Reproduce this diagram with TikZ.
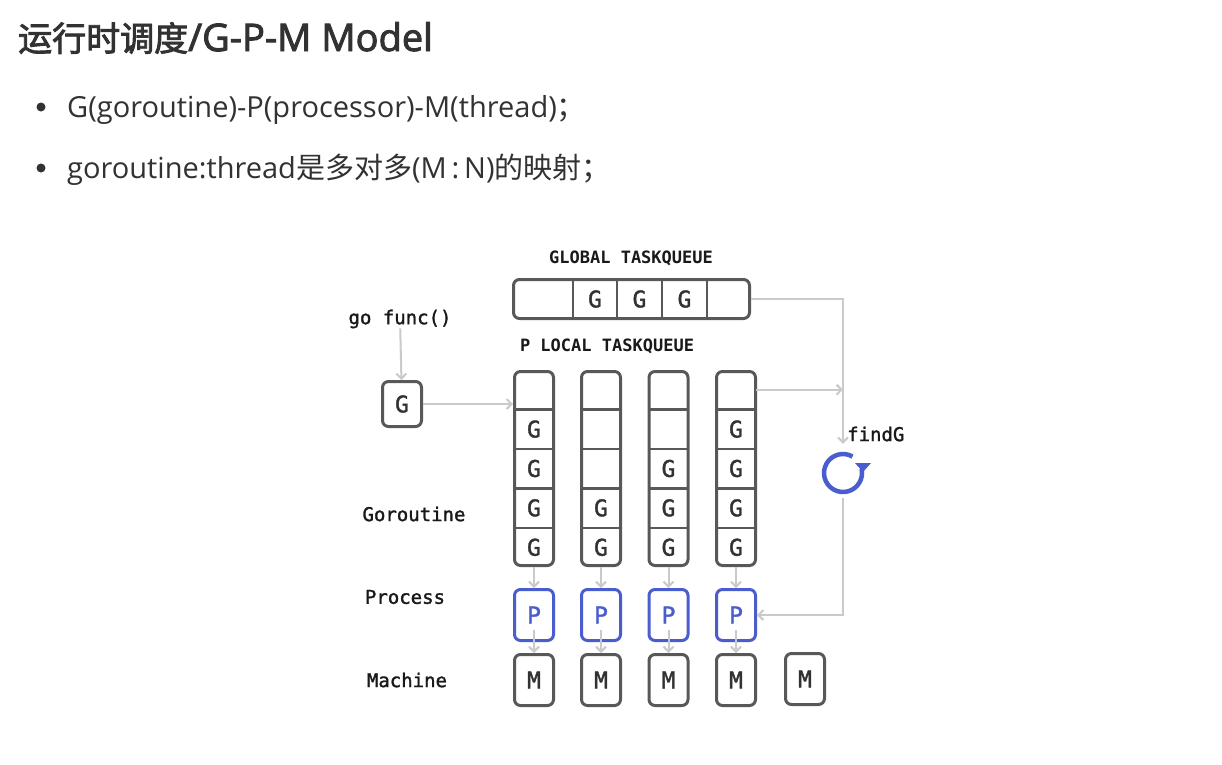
\documentclass[tikz,border=0pt]{standalone}
\usepackage{fontspec}
\setmainfont{Open Sans}
\newfontfamily\cjk{Noto Sans CJK SC}
\newfontfamily\cjkb[FakeBold=2.5]{Noto Sans CJK SC}
\newfontfamily\sansb[FakeBold=2.5]{Open Sans}
\newfontfamily\mono{DejaVu Sans Mono}
\newfontfamily\monob[FakeBold=1.5]{DejaVu Sans Mono}
\usetikzlibrary{arrows.meta}
\definecolor{boxgray}{RGB}{88,88,88}
\definecolor{arrgray}{RGB}{202,202,202}
\definecolor{pblue}{RGB}{74,93,206}
\definecolor{txt}{RGB}{50,50,50}
\definecolor{lbltxt}{RGB}{25,25,25}
\begin{document}
\begin{tikzpicture}[x=1pt,y=-1pt,
  box/.style={draw=boxgray, line width=3pt, rounded corners=6pt, inner sep=0pt, minimum width=39pt},
  pbox/.style={draw=pblue, line width=3pt, rounded corners=6pt, inner sep=0pt, minimum width=39pt, minimum height=51pt, text=pblue, font=\monob\fontsize{23}{23}\selectfont},
  mbox/.style={box, minimum height=51pt, text=txt, font=\monob\fontsize{23}{23}\selectfont},
  cellbox/.style={inner sep=0pt, minimum width=39pt, minimum height=39.4pt},
  glyph/.style={inner sep=0pt, text=txt, font=\monob\fontsize{23}{23}\selectfont},
  divider/.style={draw=boxgray, line width=2.5pt},
  conn/.style={draw=arrgray, line width=2pt, -{Straight Barb[length=5pt,width=10pt]}},
  lbl/.style={inner sep=0pt, text=lbltxt, font=\monob\fontsize{19}{19}\selectfont},
  hdr/.style={inner sep=0pt, text=lbltxt, font=\mono\bfseries\fontsize{17}{17}\selectfont},
  bullet/.style={circle, fill=txt, minimum size=9pt, inner sep=0pt},
  linetext/.style={anchor=base west, inner sep=0pt, text=txt, font=\fontsize{29}{29}\selectfont}
]
\fill[white] (0,0) rectangle (1222,764);
\useasboundingbox (0,0) rectangle (1222,764);

% title and bullets
\node[anchor=base west, inner sep=0pt, text=txt] (title) at (18,51)
  {{\cjkb\fontsize{34}{34}\selectfont 运行时调度}{\sansb\fontsize{38}{38}\selectfont /G-P-M Model}};
\node[bullet] (b1) at (41,107) {};
\node[linetext] (t1) at (67,117) {G(goroutine)-P(processor)-M(thread){\cjk ；}};
\node[bullet] (b2) at (41,168) {};
\node[linetext] (t2) at (67,178) {goroutine:thread{\cjk 是多对多}(M\,:\,N){\cjk 的映射；}};

% global queue
\node[hdr] (ghdr) at (631,258) {GLOBAL TASKQUEUE};
\node[box, minimum width=236pt, minimum height=39pt] (gq) at (631.5,299) {};
\foreach \x in {573,617,662,707}
  \draw[divider] (\x,0 |- gq.north) -- (\x,0 |- gq.south);
\node[glyph] (gq2) at (595,299) {G};
\node[glyph] (gq3) at (639.5,299) {G};
\node[glyph] (gq4) at (684.5,299) {G};

% go func
\node[lbl] (gofunc) at (400,319) {go func()};
\node[box, minimum height=45pt, text=txt, font=\monob\fontsize{23}{23}\selectfont] (gbox) at (402,404) {G};

\node[hdr] (lhdr) at (607,346) {P LOCAL TASKQUEUE};

% local queues
\foreach \k/\x in {1/534,2/601,3/668.5,4/736}{
  \node[box, minimum height=194pt] (col\k) at (\x,468.5) {};
  \foreach \r in {1,...,5}
    \node[cellbox] (c\k\r) at (\x,{370+39.4*(\r-0.5)}) {};
  \foreach \r in {1,...,4}
    \draw[divider] (c\k\r.south west) -- (c\k\r.south east);
  \node[pbox] (p\k) at (\x,615) {P};
  \node[mbox] (m\k) at (\x,680) {M};
}
\node[mbox] (m5) at (805,679) {M};
\foreach \c in {12,13,14,15,24,25,33,34,35,42,43,44,45}
  \node[glyph] (g\c) at (c\c) {G};

% row labels
\node[lbl] (lgor) at (414,514) {Goroutine};
\node[lbl] (lproc) at (405,597) {Process};
\node[lbl] (lmach) at (407,680) {Machine};

% findG icon
\node[inner sep=0pt, minimum size=42pt, circle] (ref) at (843,473) {};
\draw[pblue, line width=4.5pt] ([shift={(-60:19)}]ref.center) arc[start angle=-60, end angle=-372, radius=19];
\fill[pblue] (855,463) -- (871,463) -- (863,472) -- cycle;
\node[lbl, anchor=west] (findg) at (847,434) {findG};

% connectors
\draw[conn] (gofunc) -- (gbox);
\draw[conn] (gbox.east) -- (gbox.east -| col1.west);
\draw[conn, shorten >=8pt] (gq.east) -| (ref.north);
\draw[conn] (c41.east) -- (c41.east -| ref.center);
\draw[conn, shorten <=4pt] (ref.south) |- (p4.east);
\foreach \k in {1,...,4}{
  \draw[conn] (col\k.south) -- (p\k.north);
  \draw[conn] ([yshift=12pt]p\k.south) -- (m\k.north);
}
\end{tikzpicture}
\end{document}
